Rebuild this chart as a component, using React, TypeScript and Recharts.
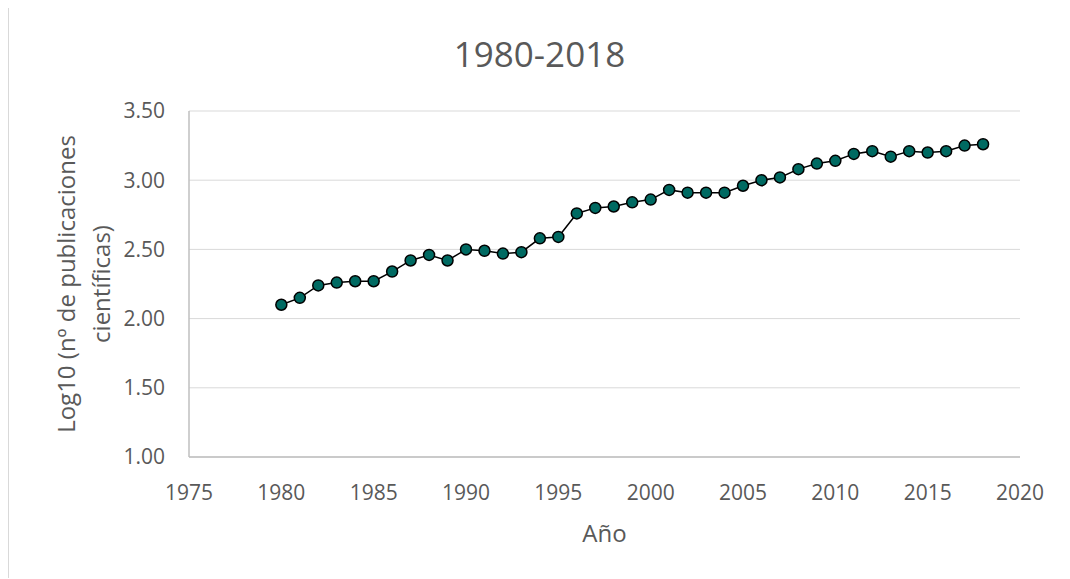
import React from "react";
import {
  LineChart,
  Line,
  XAxis,
  YAxis,
  CartesianGrid,
  Label,
} from "recharts";

const years = [
  1980, 1981, 1982, 1983, 1984, 1985, 1986, 1987, 1988, 1989, 1990, 1991, 1992,
  1993, 1994, 1995, 1996, 1997, 1998, 1999, 2000, 2001, 2002, 2003, 2004, 2005,
  2006, 2007, 2008, 2009, 2010, 2011, 2012, 2013, 2014, 2015, 2016, 2017, 2018,
];

const logPubs = [
  2.1, 2.15, 2.24, 2.26, 2.27, 2.27, 2.34, 2.42, 2.46, 2.42, 2.5, 2.49, 2.47,
  2.48, 2.58, 2.59, 2.76, 2.8, 2.81, 2.84, 2.86, 2.93, 2.91, 2.91, 2.91, 2.96,
  3.0, 3.02, 3.08, 3.12, 3.14, 3.19, 3.21, 3.17, 3.21, 3.2, 3.21, 3.25, 3.26,
];

const xTicks = [1975, 1980, 1985, 1990, 1995, 2000, 2005, 2010, 2015, 2020];
const yTicks = [1.0, 1.5, 2.0, 2.5, 3.0, 3.5];

const title = "1980-2018";
const xTitle = "Año";
const yTitleLines = ["Log10 (nº de publicaciones", "científicas)"];

const data = years.map((year, i) => ({ year, value: logPubs[i] }));

const FONT = "'Segoe UI', 'Open Sans', sans-serif";
const TEXT = "#595959";

const YTitle = (props: any) => {
  const vb = props.viewBox || {};
  const cy = vb.y + vb.height / 2;
  return (
    <g>
      {yTitleLines.map((line, i) => {
        const cx = vb.x + 56 + i * 35;
        return (
          <text
            key={i}
            x={cx}
            y={cy}
            transform={`rotate(-90 ${cx} ${cy})`}
            textAnchor="middle"
            dominantBaseline="central"
            fill={TEXT}
            fontSize={24}
            fontFamily={FONT}
          >
            {line}
          </text>
        );
      })}
    </g>
  );
};

const XTitle = (props: any) => {
  const vb = props.viewBox || {};
  return (
    <text
      x={vb.x + vb.width / 2}
      y={vb.y + 85}
      textAnchor="middle"
      fill={TEXT}
      fontSize={24}
      fontFamily={FONT}
    >
      {xTitle}
    </text>
  );
};

export default function App() {
  return (
    <div
      style={{
        position: "relative",
        width: 1062,
        height: 571,
        boxSizing: "border-box",
        borderLeft: "1px solid #d9d9d9",
        borderTop: "1px solid #d9d9d9",
        marginTop: -1,
        background: "#fff",
      }}
    >
      <div
        style={{
          position: "absolute",
          left: 0,
          top: 22,
          width: 1061,
          textAlign: "center",
          fontFamily: FONT,
          fontSize: 35,
          color: TEXT,
          lineHeight: "48px",
        }}
      >
        {title}
      </div>
      <LineChart
        width={1061}
        height={570}
        data={data}
        margin={{ top: 103, right: 50, bottom: 0, left: 0 }}
      >
        <CartesianGrid vertical={false} stroke="#d9d9d9" strokeWidth={1} />
        <XAxis
          dataKey="year"
          type="number"
          domain={[1975, 2020]}
          ticks={xTicks}
          allowDataOverflow
          stroke="#bfbfbf"
          strokeWidth={1.5}
          tickLine={false}
          tickSize={0}
          tickMargin={28}
          height={121}
          tick={{ fill: TEXT, fontSize: 21, fontFamily: FONT }}
        >
          <Label content={<XTitle />} />
        </XAxis>
        <YAxis
          type="number"
          domain={[1, 3.5]}
          ticks={yTicks}
          tickFormatter={(v: number) => v.toFixed(2)}
          stroke="#bfbfbf"
          strokeWidth={1.5}
          tickLine={false}
          tickSize={0}
          tickMargin={24}
          width={180}
          tick={{ fill: TEXT, fontSize: 21, fontFamily: FONT }}
        >
          <Label content={<YTitle />} />
        </YAxis>
        <Line
          type="linear"
          dataKey="value"
          stroke="#000"
          strokeWidth={1.5}
          dot={{ r: 5.5, fill: "#006a62", stroke: "#000", strokeWidth: 1.5 }}
          isAnimationActive={false}
        />
      </LineChart>
    </div>
  );
}
